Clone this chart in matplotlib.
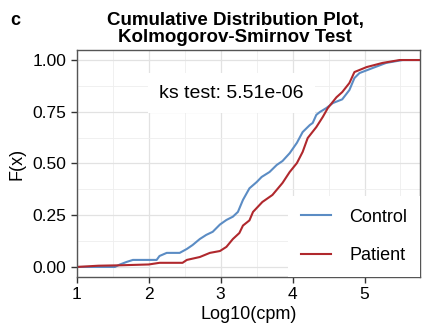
import numpy as np
import matplotlib.pyplot as plt

plt.rcParams["font.family"] = ["Liberation Sans", "DejaVu Sans"]

# ECDF points (log10 cpm, F(x))
control_x = [1.0, 1.53, 1.6, 1.69, 1.78, 2.11, 2.15, 2.25, 2.43, 2.53, 2.61, 2.71,
             2.8, 2.89, 2.99, 3.08, 3.17, 3.24, 3.31, 3.40, 3.5, 3.57, 3.68, 3.78,
             3.86, 3.96, 4.06, 4.14, 4.24, 4.28, 4.33, 4.38, 4.47, 4.56, 4.69, 4.79,
             4.86, 4.93, 5.11, 5.3, 5.53, 5.8]
control_f = [0.0, 0.0, 0.012, 0.024, 0.034, 0.034, 0.053, 0.068, 0.068, 0.087, 0.106, 0.135,
             0.155, 0.17, 0.205, 0.227, 0.243, 0.266, 0.324, 0.38, 0.41, 0.435, 0.459, 0.493,
             0.512, 0.55, 0.6, 0.652, 0.686, 0.696, 0.735, 0.749, 0.768, 0.792, 0.81, 0.855,
             0.913, 0.937, 0.961, 0.986, 1.0, 1.0]

patient_x = [1.0, 1.15, 1.3, 1.6, 2.0, 2.15, 2.47, 2.53, 2.71, 2.85, 2.99, 3.08,
             3.17, 3.26, 3.31, 3.40, 3.45, 3.58, 3.72, 3.86, 3.96, 4.06, 4.14, 4.21,
             4.33, 4.42, 4.49, 4.61, 4.69, 4.79, 4.86, 5.03, 5.25, 5.49, 5.8]
patient_f = [0.0, 0.003, 0.006, 0.008, 0.012, 0.02, 0.02, 0.034, 0.048, 0.068, 0.077, 0.097,
             0.135, 0.164, 0.2, 0.225, 0.266, 0.314, 0.348, 0.406, 0.459, 0.502, 0.556, 0.623,
             0.676, 0.725, 0.768, 0.82, 0.845, 0.889, 0.942, 0.966, 0.986, 1.0, 1.0]

ks_label = "ks test: 5.51e-06"

fig = plt.figure(figsize=(4.22, 3.34), dpi=100)
ax = fig.add_axes([0.182, 0.171, 0.813, 0.679])

ax.plot(control_x, control_f, color="#5b8cc4", lw=1.5, label="Control")
ax.plot(patient_x, patient_f, color="#b0282d", lw=1.5, label="Patient")

ax.set_xlim(1.0, 5.77)
ax.set_ylim(-0.048, 1.048)
ax.set_xticks([1, 2, 3, 4, 5])
ax.set_yticks([0, 0.25, 0.5, 0.75, 1.0])
ax.set_yticklabels(["0.00", "0.25", "0.50", "0.75", "1.00"])
ax.set_xticks(np.arange(1.5, 6, 1.0), minor=True)
ax.set_yticks(np.arange(0.125, 1.0, 0.25), minor=True)
ax.grid(which="major", color="#e2e2e2", lw=0.9)
ax.grid(which="minor", color="#eeeeee", lw=0.6)
ax.set_axisbelow(True)
ax.tick_params(which="major", labelsize=12.5, length=4, width=1.0, color="#333333",
               labelcolor="black")
ax.tick_params(which="minor", length=0)
for s in ax.spines.values():
    s.set_color("#555555")
    s.set_linewidth(1.0)

ax.set_xlabel("Log10(cpm)", fontsize=13, labelpad=3)
ax.set_ylabel("F(x)", fontsize=13, labelpad=5)

ax.text(3.15, 0.84, ks_label, fontsize=14, ha="center", va="center",
        bbox=dict(boxstyle="square,pad=0.6", fc="white", ec="none"))

leg = ax.legend(loc="lower right", fontsize=13, frameon=True, fancybox=False,
                edgecolor="none", facecolor="white", framealpha=1,
                handlelength=1.7, labelspacing=1.2, borderaxespad=0.0,
                handletextpad=1.0, borderpad=0.7)

fig.text(0.025, 0.94, "c", fontsize=13, fontweight="bold", ha="left", va="center")
fig.text(0.557, 0.914, "Cumulative Distribution Plot,\nKolmogorov-Smirnov Test",
         fontsize=13.5, fontweight="bold", ha="center", va="center", linespacing=1.0)

fig.savefig("out.png", dpi=100)
